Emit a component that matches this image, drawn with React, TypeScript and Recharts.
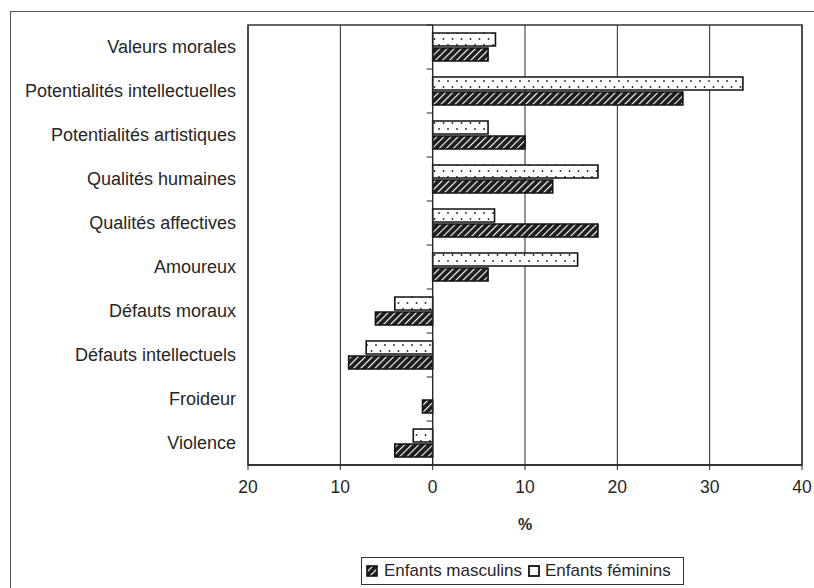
import React from 'react';
import { BarChart, Bar, XAxis, YAxis, CartesianGrid, ReferenceLine, ReferenceArea, Legend } from 'recharts';

const categories = [
  'Valeurs morales',
  'Potentialités intellectuelles',
  'Potentialités artistiques',
  'Qualités humaines',
  'Qualités affectives',
  'Amoureux',
  'Défauts moraux',
  'Défauts intellectuels',
  'Froideur',
  'Violence',
];
const feminins = [6.8, 33.6, 6.0, 17.9, 6.7, 15.7, -4.1, -7.2, 0, -2.1];
const masculins = [6.0, 27.1, 10.0, 13.0, 17.9, 6.0, -6.2, -9.1, -1.1, -4.1];
const xTicks = [-20, -10, 0, 10, 20, 30, 40];

const data = categories.map((name, i) => ({ name, feminins: feminins[i], masculins: masculins[i] }));

const FONT = '"Liberation Sans", Arial, sans-serif';
const INK = '#262626';
const FS = 17.5;

// zero line with small ticks at category boundaries
function ZeroLine(props: any) {
  const { x1, y1, x2, y2 } = props;
  const n = categories.length;
  const marks = [];
  for (let i = 0; i <= n; i++) {
    const y = y1 + ((y2 - y1) * i) / n;
    marks.push(<line key={i} x1={x1 - 6} x2={x1} y1={y} y2={y} stroke={INK} strokeWidth={1} />);
  }
  return (
    <g>
      <line x1={x1} y1={y1} x2={x2} y2={y2} stroke={INK} strokeWidth={1.2} />
      {marks}
    </g>
  );
}

function LegendBox() {
  return (
    <div
      style={{
        border: '1.5px solid #333',
        height: 28,
        width: 323,
        boxSizing: 'border-box',
        display: 'flex',
        alignItems: 'center',
        fontFamily: FONT,
        fontSize: 17,
        color: INK,
        paddingLeft: 4,
        whiteSpace: 'nowrap',
      }}
    >
      <svg width={12} height={12} style={{ marginRight: 6 }}>
        <rect x={1} y={1} width={10} height={10} fill="url(#hatch)" stroke="#111" strokeWidth={1.6} />
      </svg>
      <span style={{ marginRight: 6 }}>Enfants masculins</span>
      <svg width={12} height={12} style={{ marginRight: 5 }}>
        <rect x={1} y={1} width={10} height={10} fill="#fff" stroke="#111" strokeWidth={1.8} />
      </svg>
      <span>Enfants féminins</span>
    </div>
  );
}

export default function App() {
  return (
    <div style={{ position: 'absolute', left: 0, top: 0, width: 814, height: 588, overflow: 'hidden', background: '#fff' }}>
      <div
        style={{
          position: 'absolute',
          left: 10,
          top: 11,
          width: 830,
          height: 600,
          border: '1.5px solid #555',
        }}
      />
      <div style={{ position: 'absolute', left: 0, top: 0 }}>
        <BarChart
          width={814}
          height={588}
          data={data}
          layout="vertical"
          margin={{ top: 25, right: 12, bottom: 53, left: 10 }}
          barSize={13}
          barGap={2}
        >
          <defs>
            <pattern id="hatch" patternUnits="userSpaceOnUse" width={5} height={5} patternTransform="rotate(45)">
              <rect width={5} height={5} fill="#1e1e1e" />
              <line x1={0} y1={0} x2={0} y2={5} stroke="#fff" strokeWidth={2.2} />
            </pattern>
            <pattern id="dots" patternUnits="userSpaceOnUse" width={9} height={12}>
              <rect width={9} height={12} fill="#fff" />
              <circle cx={2.5} cy={3} r={0.9} fill="#222" />
              <circle cx={7} cy={9} r={0.9} fill="#222" />
            </pattern>
          </defs>
          <CartesianGrid horizontal={false} stroke={INK} strokeWidth={1} />
          <ReferenceArea x1={-20} x2={40} fill="none" stroke="#333" strokeWidth={1.5} fillOpacity={0} />
          <XAxis
            type="number"
            domain={[-20, 40]}
            ticks={xTicks}
            tickFormatter={(v: number) => String(Math.abs(v))}
            axisLine={{ stroke: INK, strokeWidth: 1.5 }}
            tickLine={{ stroke: INK }}
            tickSize={5}
            tickMargin={11}
            height={70}
            tick={{ fontFamily: FONT, fontSize: FS, fill: INK }}
            label={{ value: '%', position: 'insideBottom', offset: 5, fontFamily: FONT, fontSize: 16, fontWeight: 'bold', fill: INK }}
          />
          <YAxis
            type="category"
            dataKey="name"
            width={238}
            axisLine={false}
            tickLine={false}
            tickSize={0}
            tickMargin={12}
            interval={0}
            tick={{ fontFamily: FONT, fontSize: 18, fill: INK }}
          />
          <ReferenceLine x={0} shape={ZeroLine} />
          <Bar dataKey="feminins" name="Enfants féminins" fill="url(#dots)" stroke="#111" strokeWidth={1.6} isAnimationActive={false} />
          <Bar dataKey="masculins" name="Enfants masculins" fill="url(#hatch)" stroke="#111" strokeWidth={1.6} isAnimationActive={false} />
          <Legend
            layout="vertical"
            align="center"
            verticalAlign="middle"
            content={() => <LegendBox />}
            wrapperStyle={{ position: 'absolute', left: 361, top: 557, width: 323, height: 28 }}
          />
        </BarChart>
      </div>
    </div>
  );
}
